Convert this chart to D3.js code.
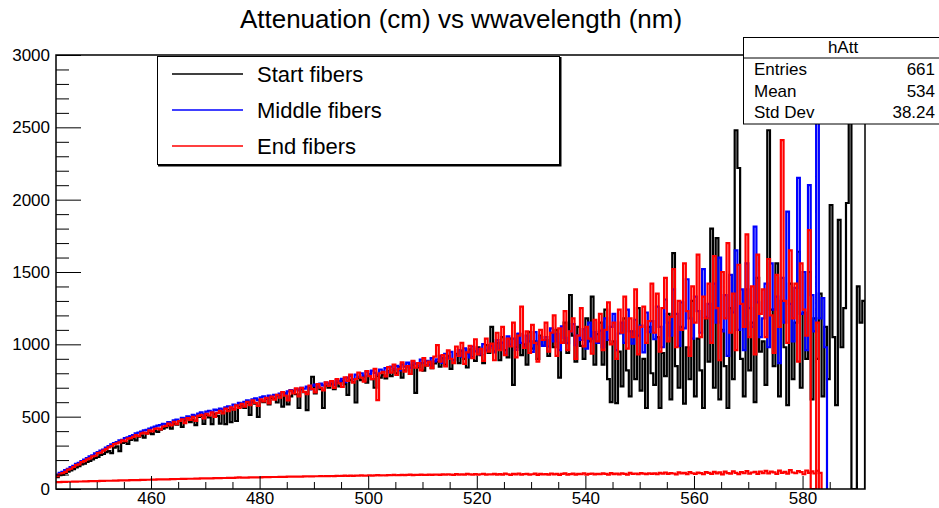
<!DOCTYPE html>
<html>
<head>
<meta charset="utf-8">
<script src="https://cdn.jsdelivr.net/npm/d3@7"></script>
<style>
  body { margin: 0; background: #fff; }
  svg { display: block; font-family: "Liberation Sans", Arial, Helvetica, sans-serif; }
</style>
</head>
<body>
<div id="chart"></div>
<script>
// histogram binning (nm): bin i covers [binStart + i*binWidth, binStart + (i+1)*binWidth)
var binStart = 442.5;
var binWidth = 0.5;

// Start fibers (black)
var startFibers = [
  82, 95, 100, 112, 120, 128, 138, 150, 158, 170, 176, 188, 195, 205, 215, 222, 236, 242, 255, 262,
  248, 286, 295, 262, 318, 325, 312, 340, 350, 336, 362, 370, 355, 384, 392, 380, 402, 395, 410, 418,
  425, 440, 418, 452, 445, 468, 430, 475, 490, 462, 480, 442, 498, 505, 450, 512, 495, 448, 518, 505,
  452, 530, 448, 545, 462, 552, 470, 568, 585, 560, 596, 512, 604, 590, 498, 615, 600, 622, 585, 630,
  625, 598, 648, 570, 662, 585, 640, 678, 655, 560, 690, 670, 545, 700, 776, 660, 708, 690, 560, 715,
  700, 725, 690, 738, 710, 748, 725, 650, 755, 740, 598, 768, 752, 778, 735, 790, 760, 700, 782, 770,
  790, 765, 815, 780, 825, 800, 845, 770, 820, 850, 795, 860, 665, 840, 870, 818, 855, 880, 835, 868,
  880, 845, 905, 860, 920, 830, 890, 935, 870, 955, 900, 840, 965, 910, 885, 980, 925, 870, 995, 940,
  1120, 950, 1010, 890, 1050, 960, 910, 1040, 720, 980, 1070, 925, 1000, 860, 1085, 970, 1020, 900, 1060, 990,
  1030, 920, 1080, 980, 1100, 770, 1010, 1150, 940, 1341, 1060, 880, 1120, 990, 900, 1180, 1020, 1330, 860, 1070,
  1150, 860, 1240, 760, 600, 1020, 594, 950, 710, 1180, 820, 640, 1090, 760, 1250, 680, 900, 560, 1120, 800,
  720, 1050, 560, 940, 780, 1210, 620, 1630, 850, 700, 1120, 590, 980, 760, 1300, 640, 1040, 820, 560, 1180,
  880, 1800, 700, 1734, 620, 1100, 850, 560, 1250, 760, 2480, 2219, 900, 640, 1380, 820, 1150, 600, 1460, 950,
  1020, 720, 2480, 1240, 850, 1560, 640, 1300, 980, 580, 1420, 760, 1150, 1640, 700, 1220, 900, 1500, 620, 1180,
  900, 1350, 640, 1120, 760, 1963, 1050, 580, 1860, 980, 1250, 1977, 2900, 0, 0, 1400, 1150, 1300
];

// Middle fibers (blue)
var middleFibers = [
  100, 112, 118, 131, 140, 152, 160, 173, 181, 193, 204, 213, 226, 232, 246, 255, 266, 273, 287, 296,
  308, 318, 325, 336, 340, 352, 357, 366, 372, 384, 390, 396, 405, 409, 418, 425, 431, 438, 442, 450,
  448, 462, 458, 474, 479, 470, 492, 488, 503, 497, 512, 506, 521, 530, 518, 535, 541, 532, 549, 545,
  556, 548, 565, 572, 560, 584, 579, 596, 590, 603, 612, 598, 620, 627, 615, 633, 640, 626, 645, 638,
  651, 642, 660, 668, 652, 675, 684, 667, 690, 682, 700, 693, 708, 689, 715, 722, 704, 728, 716, 735,
  728, 742, 720, 751, 745, 762, 738, 770, 781, 758, 790, 776, 800, 784, 812, 795, 818, 803, 790, 826,
  812, 835, 808, 846, 828, 851, 820, 862, 845, 874, 838, 880, 866, 852, 895, 871, 886, 858, 905, 882,
  896, 920, 872, 935, 905, 948, 890, 925, 960, 915, 972, 938, 910, 985, 952, 968, 930, 1002, 958, 975,
  990, 945, 1030, 968, 1012, 930, 1055, 998, 1040, 962, 1075, 1010, 985, 1060, 1020, 948, 1085, 1002, 1046, 990,
  1050, 985, 1110, 1020, 1072, 960, 1125, 1045, 1008, 1090, 1140, 995, 1062, 1030, 1105, 970, 1150, 1040, 1085, 1010,
  1095, 980, 1180, 1030, 1120, 1210, 960, 1075, 1150, 1010, 1240, 1090, 1005, 1170, 1060, 1130, 945, 1220, 1085, 1160,
  1035, 1260, 1120, 980, 1310, 1150, 1060, 1380, 1210, 990, 1290, 1110, 1450, 1180, 1040, 1330, 1230, 1080, 1520, 1190,
  1280, 1010, 1420, 1150, 1600, 1090, 1340, 920, 1480, 1220, 1650, 1100, 1380, 960, 1560, 1250, 1120, 1813, 1290, 1050,
  1180, 1420, 980, 1560, 1240, 1330, 870, 1460, 1150, 1917, 1280, 1020, 1390, 2150, 1210, 1500, 960, 2100, 1340, 1090,
  2700, 1180, 1320, 980
];

// End fibers (red)
var endFibers = [
  88, 102, 110, 118, 134, 140, 152, 165, 170, 186, 192, 205, 212, 226, 230, 248, 252, 265, 275, 288,
  296, 310, 315, 322, 336, 330, 348, 352, 361, 372, 366, 385, 390, 382, 405, 398, 415, 420, 412, 432,
  436, 452, 440, 465, 448, 470, 482, 455, 490, 478, 498, 470, 505, 512, 488, 520, 508, 530, 498, 526,
  540, 522, 556, 538, 565, 548, 578, 560, 588, 570, 602, 580, 612, 596, 575, 620, 605, 630, 592, 638,
  618, 650, 632, 670, 645, 612, 680, 660, 695, 640, 700, 672, 655, 715, 690, 668, 725, 700, 682, 738,
  712, 745, 698, 760, 730, 705, 772, 748, 790, 735, 760, 805, 770, 742, 815, 780, 760, 830, 615, 800,
  810, 778, 842, 805, 860, 788, 830, 875, 812, 850, 795, 885, 838, 870, 820, 905, 852, 880, 835, 915,
  995, 880, 925, 848, 958, 900, 870, 985, 920, 1010, 865, 945, 990, 905, 1035, 930, 968, 885, 1040, 950,
  1005, 890, 1080, 960, 1120, 925, 1040, 985, 1150, 910, 1060, 1260, 975, 1090, 940, 1135, 1010, 880, 1100, 1030,
  1150, 950, 1080, 1200, 920, 1110, 1010, 1230, 960, 1090, 1180, 900, 1060, 1250, 985, 1120, 1040, 935, 1170, 1020,
  1210, 960, 1100, 1290, 1000, 1150, 900, 1240, 1080, 1330, 970, 1180, 1050, 1380, 930, 1120, 1260, 1010, 1160, 1420,
  1080, 1350, 950, 1250, 1460, 1020, 1190, 1520, 980, 1300, 1100, 1560, 1230, 920, 1400, 1150, 1620, 1050, 1330, 1180,
  1420, 1010, 1610, 1250, 890, 1500, 1180, 1700, 1080, 1350, 960, 1550, 1280, 1120, 1760, 1050, 1400, 930, 1620, 1210,
  1380, 1050, 1590, 1200, 940, 1480, 1120, 2412, 1300, 1010, 1650, 1180, 1420, 880, 1560, 1240, 1060, 1790, 0, 0,
  1150
];

// low red histogram near the bottom
var endLow = [
  48, 48, 49, 49, 50, 50, 51, 51, 52, 52, 53, 53, 54, 54, 55, 55, 56, 56, 57, 57,
  57, 58, 58, 59, 59, 60, 60, 61, 61, 62, 62, 63, 63, 64, 64, 65, 65, 66, 66, 67,
  67, 67, 68, 68, 69, 69, 70, 70, 71, 71, 71, 72, 72, 73, 73, 73, 74, 74, 75, 75,
  75, 76, 76, 77, 77, 77, 78, 80, 78, 79, 79, 80, 80, 80, 81, 81, 82, 82, 82, 83,
  83, 83, 84, 84, 84, 85, 85, 86, 85, 86, 86, 87, 88, 87, 87, 88, 88, 89, 88, 89,
  89, 90, 89, 91, 90, 91, 92, 90, 92, 91, 93, 92, 94, 92, 93, 95, 93, 94, 96, 94,
  95, 94, 96, 95, 97, 95, 96, 98, 96, 97, 99, 96, 98, 97, 100, 97, 98, 100, 98, 99,
  100, 98, 101, 99, 102, 100, 98, 103, 100, 101, 99, 104, 101, 100, 103, 99, 102, 105, 100, 102,
  101, 105, 99, 103, 100, 106, 102, 98, 104, 101, 107, 99, 103, 105, 100, 102, 106, 98, 104, 101,
  103, 99, 107, 101, 105, 98, 104, 108, 100, 103, 106, 99, 105, 102, 109, 100, 104, 107, 101, 105,
  102, 108, 104, 99, 110, 103, 106, 101, 109, 105, 100, 111, 104, 107, 102, 110, 106, 103, 109, 105,
  108, 102, 112, 106, 114, 104, 110, 107, 101, 115, 108, 112, 103, 116, 109, 105, 113, 110, 102, 117,
  112, 104, 118, 108, 115, 101, 120, 110, 106, 122, 112, 103, 117, 109, 124, 106, 114, 119, 105, 121,
  110, 125, 108, 120, 115, 104, 127, 112, 118, 106, 130, 114, 109, 124, 117, 102, 128, 111, 122, 107,
  126, 112
];

var legendLabels = ["Start fibers", "Middle fibers", "End fibers"];
var seriesColors = ["#000000", "#0000ff", "#ff0000"];
var xMajorTicks = [460, 480, 500, 520, 540, 560, 580];
var yMajorTicks = [0, 500, 1000, 1500, 2000, 2500, 3000];
var statsTitle = "hAtt";
var statsNames = ["Entries", "Mean", "Std Dev"];
var statsValues = ["661", "534", "38.24"];
var title = "Attenuation (cm) vs wwavelength (nm)";

var width = 939;
var height = 508;
var frame = { left: 56, right: 865, top: 55, bottom: 489 };

var svg = d3.select("#chart").append("svg").attr("width", width).attr("height", height);

var x = d3.scaleLinear().domain([442.5, 591.5]).range([frame.left, frame.right]);
var y = d3.scaleLinear().domain([0, 3000]).range([frame.bottom, frame.top]);

svg.append("defs").append("clipPath").attr("id", "plotClip")
  .append("rect")
  .attr("x", frame.left).attr("y", frame.top)
  .attr("width", frame.right - frame.left).attr("height", frame.bottom - frame.top);

// 直方图折线（阶梯）
var histLine = d3.line()
  .x(function (d) { return x(d[0]); })
  .y(function (d) { return y(d[1]); })
  .curve(d3.curveStepAfter);

function histPoints(values) {
  var pts = values.map(function (v, i) { return [binStart + i * binWidth, v]; });
  pts.push([binStart + values.length * binWidth, 0]); // 末端落回 0
  return pts;
}

var plot = svg.append("g").attr("clip-path", "url(#plotClip)");
[startFibers, middleFibers, endFibers, endLow].forEach(function (values, i) {
  plot.append("path")
    .datum(histPoints(values))
    .attr("fill", "none")
    .attr("stroke", seriesColors[Math.min(i, 2)])
    .attr("stroke-width", 2.2)
    .attr("stroke-linejoin", "miter")
    .attr("d", histLine);
});

// x轴
var xMinor = d3.range(445, 591, 5).filter(function (v) { return xMajorTicks.indexOf(v) < 0; });
svg.append("g")
  .attr("transform", "translate(0," + frame.bottom + ")")
  .call(d3.axisBottom(x).tickValues(xMinor).tickSize(-7).tickFormat(""))
  .call(function (g) { g.select(".domain").remove(); });
var xAxis = svg.append("g")
  .attr("transform", "translate(0," + frame.bottom + ")")
  .call(d3.axisBottom(x).tickValues(xMajorTicks).tickSize(-13).tickPadding(3).tickFormat(d3.format("d")));
xAxis.select(".domain").remove();
xAxis.selectAll("text").style("font-size", "17px").attr("fill", "#000");

// y轴
var yMinor = d3.range(100, 3000, 100).filter(function (v) { return yMajorTicks.indexOf(v) < 0; });
svg.append("g")
  .attr("transform", "translate(" + frame.left + ",0)")
  .call(d3.axisLeft(y).tickValues(yMinor).tickSize(-13).tickFormat(""))
  .call(function (g) { g.select(".domain").remove(); });
var yAxis = svg.append("g")
  .attr("transform", "translate(" + frame.left + ",0)")
  .call(d3.axisLeft(y).tickValues(yMajorTicks).tickSize(-25).tickPadding(6).tickFormat(d3.format("d")));
yAxis.select(".domain").remove();
yAxis.selectAll("text").style("font-size", "17px").attr("fill", "#000");
svg.selectAll(".tick line").attr("stroke", "#000");

// frame
svg.append("rect")
  .attr("x", frame.left).attr("y", frame.top)
  .attr("width", frame.right - frame.left).attr("height", frame.bottom - frame.top)
  .attr("fill", "none").attr("stroke", "#000").attr("stroke-width", 1.5);

// title
svg.append("text")
  .attr("x", 461).attr("y", 28)
  .attr("text-anchor", "middle")
  .style("font-size", "26px")
  .text(title);

// legend
var leg = svg.append("g");
leg.append("rect").attr("x", 158).attr("y", 57).attr("width", 403.5).attr("height", 109.5).attr("fill", "#000");
leg.append("rect").attr("x", 157.5).attr("y", 56.5).attr("width", 402).attr("height", 108)
  .attr("fill", "#fff").attr("stroke", "#000").attr("stroke-width", 1);
legendLabels.forEach(function (label, i) {
  var ly = 74 + i * 36;
  leg.append("line").attr("x1", 172).attr("x2", 243).attr("y1", ly).attr("y2", ly)
    .attr("stroke", seriesColors[i]).attr("stroke-width", 1.5);
  leg.append("text").attr("x", 257).attr("y", ly).attr("dy", "0.36em")
    .style("font-size", "22px").text(label);
});

// stats box
var st = svg.append("g");
st.append("rect").attr("x", 743.5).attr("y", 37.5).attr("width", 220).attr("height", 86.5)
  .attr("fill", "#fff").attr("stroke", "#000").attr("stroke-width", 1);
st.append("line").attr("x1", 743.5).attr("x2", 939).attr("y1", 58).attr("y2", 58).attr("stroke", "#000");
st.append("text").attr("x", 843).attr("y", 53).attr("text-anchor", "middle")
  .style("font-size", "17px").text(statsTitle);
statsNames.forEach(function (name, i) {
  var by = 75 + i * 21.6;
  st.append("text").attr("x", 754).attr("y", by).style("font-size", "17px").text(name);
  st.append("text").attr("x", 935).attr("y", by).attr("text-anchor", "end")
    .style("font-size", "17px").text(statsValues[i]);
});
</script>
</body>
</html>
